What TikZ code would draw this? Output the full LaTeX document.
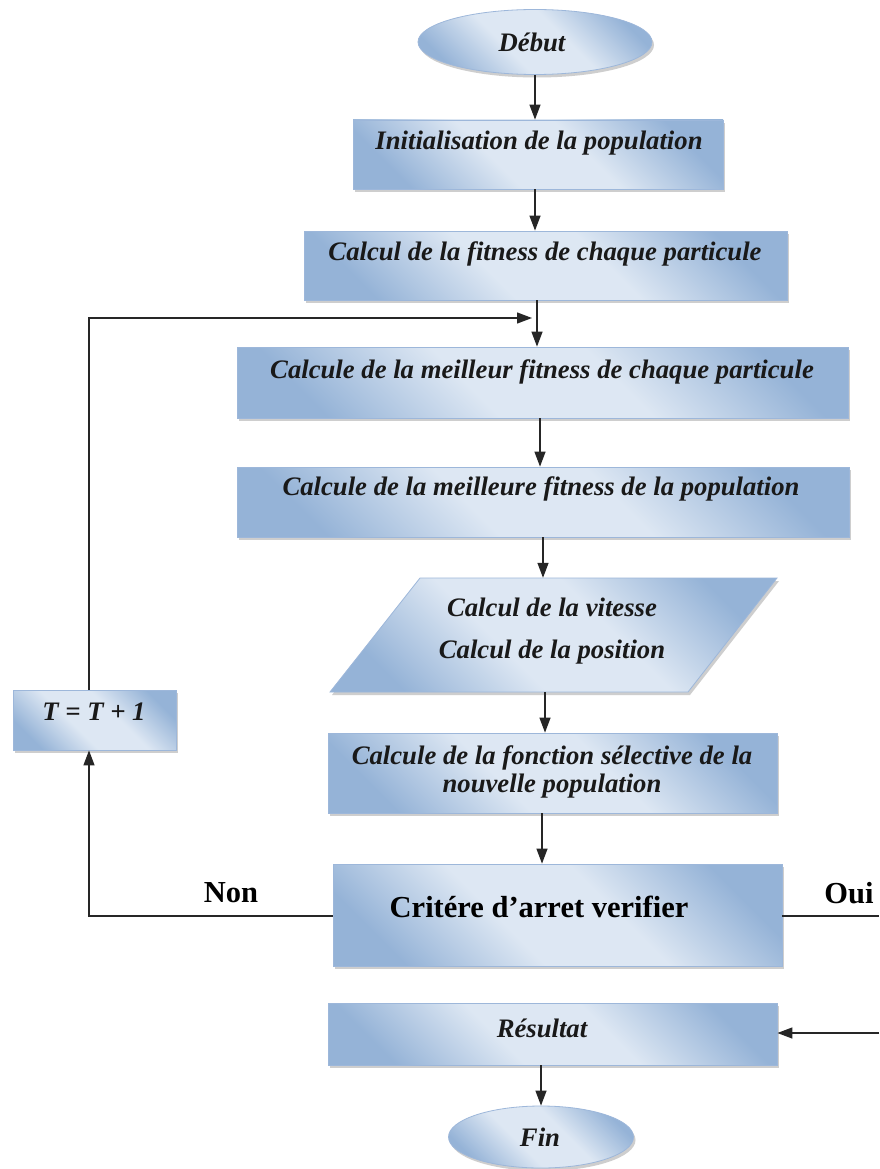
\documentclass[tikz,border=0pt]{standalone}
\usepackage{fontspec}
\setmainfont{Liberation Serif}
\usetikzlibrary{shapes.geometric,shadows,arrows.meta}
\definecolor{bdark}{HTML}{95B3D7}
\definecolor{blight}{HTML}{DDE7F3}
\definecolor{bedge}{HTML}{9DB7DA}
\pgfdeclarehorizontalshading{boxshade}{100bp}{color(0bp)=(bdark); color(24bp)=(bdark); color(42bp)=(blight); color(58bp)=(blight); color(76bp)=(bdark); color(100bp)=(bdark)}
\tikzset{
  boxfill/.style={draw=bedge, line width=0.8pt, shading=boxshade, shading angle=45,
    drop shadow={shadow xshift=2pt, shadow yshift=-3pt, fill=gray!70, opacity=0.55}},
  stepbox/.style={boxfill, rectangle, inner sep=0pt},
  termin/.style={boxfill, ellipse, inner sep=0pt},
  bi/.style={font=\fontsize{26.7}{30}\selectfont\bfseries\itshape, inner sep=0pt, text=black!90},
  bu/.style={font=\fontsize{30.5}{34}\selectfont\bfseries, inner sep=0pt, text=black},
  arr/.style={line width=1.3pt, draw=black!85, -{Triangle[length=15pt,width=11pt]}},
  ln/.style={line width=1.3pt, draw=black!85}
}
\begin{document}
\begin{tikzpicture}[x=1pt,y=-1pt]
\fill[white] (0,0) rectangle (879,1169);
\useasboundingbox (0,0) rectangle (879,1169);

% shapes
\node[termin, minimum width=234pt, minimum height=65pt] (deb) at (535,42) {};
\node[stepbox, minimum width=370pt, minimum height=69pt] (b1) at (538,154.5) {};
\node[stepbox, minimum width=483pt, minimum height=69pt] (b2) at (545.5,265.5) {};
\node[stepbox, minimum width=611pt, minimum height=71pt] (b3) at (542.5,382.5) {};
\node[stepbox, minimum width=612pt, minimum height=70pt] (b4) at (543,502) {};
\path[boxfill] (420,578) -- (777,578) -- (688,692) -- (330,692) -- cycle;
\node[inner sep=0pt, minimum width=447pt, minimum height=114pt] (par) at (553.5,635) {};
\node[stepbox, minimum width=449pt, minimum height=80pt] (b5) at (552.5,773) {};
\node[stepbox, minimum width=449pt, minimum height=102pt] (crit) at (557.5,915) {};
\node[stepbox, minimum width=449pt, minimum height=62pt] (res) at (552.5,1034) {};
\node[termin, minimum width=185pt, minimum height=62pt] (fin) at (541,1137) {};
\node[stepbox, minimum width=163pt, minimum height=60pt] (tb) at (94.5,720) {};

% texts
\node[bi] (tdeb) at (532,42) {Début};
\node[bi] (t1) at (539,143) {Initialisation de la population};
\node[bi] (t2) at (545,254) {Calcul de la fitness de chaque particule};
\node[bi] (t3) at (542,372) {Calcule de la meilleur fitness de chaque particule};
\node[bi] (t4) at (541,489) {Calcule de la meilleure fitness de la population};
\node[bi, align=center] (tp) at (552,631) {Calcul de la vitesse\\[12pt]Calcul de la position};
\node[bi, align=center, font=\fontsize{26.7}{28}\selectfont\bfseries\itshape] (t5) at (552,772) {Calcule de la fonction sélective de la\\nouvelle population};
\node[bu] (tcrit) at (539,907) {Critére d’arret verifier};
\node[bu] (tnon) at (231,893) {Non};
\node[bu] (toui) at (849,893) {Oui};
\node[bi] (tT) at (94,712) {T = T + 1};
\node[bi] (tres) at (542,1028) {Résultat};
\node[bi] (tfin) at (540,1137) {Fin};

% helper coordinates
\coordinate (cA) at (535,0);
\coordinate (cB) at (537,0);
\coordinate (cC) at (540,0);
\coordinate (cD) at (543,0);
\coordinate (cE) at (545,0);
\coordinate (cF) at (542,0);
\coordinate (cG) at (541,0);
\coordinate (lc) at (89,318);
\coordinate (ltip) at (532,318);
\coordinate (nc) at (89,916);
\coordinate (oe) at (879,916);
\coordinate (re) at (879,1033);

% connectors
\draw[arr] (deb.south -| cA) -- (b1.north -| cA);
\draw[arr] (b1.south -| cA) -- (b2.north -| cA);
\draw[arr] (b2.south -| cB) -- (b3.north -| cB);
\draw[arr] (b3.south -| cC) -- (b4.north -| cC);
\draw[arr] (b4.south -| cD) -- (par.north -| cD);
\draw[arr] (par.south -| cE) -- (b5.north -| cE);
\draw[arr] (b5.south -| cF) -- (crit.north -| cF);
\draw[arr] (res.south -| cG) -- (fin.north -| cG);
\draw[arr] (tb.north -| lc) -- (lc) -- (ltip);
\draw[arr] (crit.west |- nc) -- (nc) -- (tb.south -| nc);
\draw[ln] (crit.east |- oe) -- (oe);
\draw[arr] (re) -- (res.east |- re);
\end{tikzpicture}
\end{document}
